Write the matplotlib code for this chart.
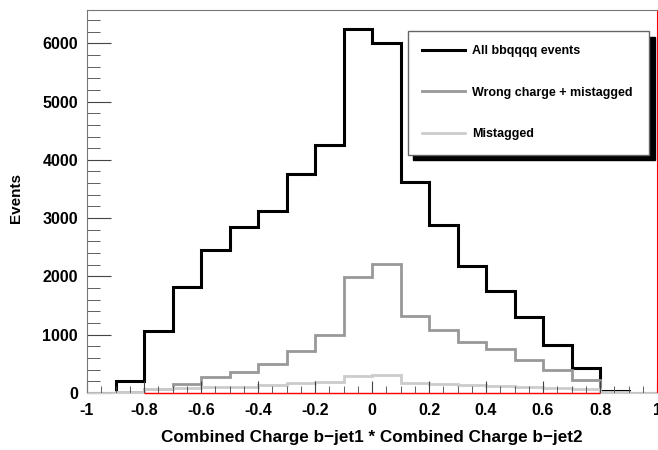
import matplotlib
matplotlib.use('Agg')
import matplotlib.pyplot as plt
from matplotlib.ticker import MultipleLocator, FuncFormatter
import numpy as np

plt.rcParams['font.family'] = ['Liberation Sans', 'DejaVu Sans']
plt.rcParams['font.weight'] = 'bold'

# 20 bins of width 0.1 on [-1, 1]
edges = np.round(np.arange(-1.0, 1.0001, 0.1), 2)
all_events = [0, 200, 1070, 1810, 2450, 2840, 3120, 3760, 4250, 6240,
              6010, 3620, 2890, 2170, 1755, 1310, 825, 425, 40, 0]
wrong_charge = [0, 15, 70, 150, 280, 365, 490, 720, 995, 1995,
                2210, 1320, 1080, 870, 750, 565, 395, 225, 15, 0]
mistagged = [0, 20, 63, 86, 97, 109, 131, 166, 189, 286,
             303, 177, 149, 131, 114, 97, 80, 69, 23, 0]
fit_range = [-0.8, 0.8]

series = [
    (all_events, 'All bbqqqq events', 'black', 2.2),
    (wrong_charge, 'Wrong charge + mistagged', '#989898', 2.0),
    (mistagged, 'Mistagged', '#cccccc', 2.0),
]

fig = plt.figure(figsize=(6.58, 4.5), dpi=100)
ax = fig.add_axes([87 / 658, 1 - 393 / 450, 570 / 658, 383 / 450])

for vals, lab, col, lw in series:
    ax.stairs(vals, edges, baseline=0, color=col, lw=lw, label=lab)

# fit range drawn along the baseline
ax.hlines(0, fit_range[0], fit_range[1], color='red', lw=1.0, zorder=5,
          clip_on=False)

ax.set_xlim(-1, 1)
ax.set_ylim(0, 6570)

ax.xaxis.set_major_locator(MultipleLocator(0.2))
ax.xaxis.set_minor_locator(MultipleLocator(0.05))
ax.yaxis.set_major_locator(MultipleLocator(1000))
ax.yaxis.set_minor_locator(MultipleLocator(200))
ax.xaxis.set_major_formatter(FuncFormatter(lambda v, p: '%g' % round(v, 2)))

ax.tick_params(axis='both', which='both', direction='in',
               top=False, right=False, color='#444444')
ax.tick_params(axis='x', which='major', length=9, pad=7, labelsize=11.5)
ax.tick_params(axis='x', which='minor', length=5)
ax.tick_params(axis='y', which='major', length=17, pad=6.5, labelsize=11.5)
ax.tick_params(axis='y', which='minor', length=9)

for s in ['left', 'top']:
    ax.spines[s].set_color('#777777')
ax.spines['bottom'].set_color('#cccccc')
ax.spines['right'].set_color('red')

ax.set_xlabel('Combined Charge b\u2212jet1 * Combined Charge b\u2212jet2',
              fontsize=12.3, fontweight='bold', labelpad=8.5)
ax.set_ylabel('Events', fontsize=11, fontweight='bold')
ax.yaxis.set_label_coords(-0.112, 0.51)

leg = ax.legend(loc='upper left', bbox_to_anchor=(0.563, 0.616, 0.423, 0.329),
                mode='expand', borderaxespad=0, fontsize=9, frameon=True,
                fancybox=False, handlelength=3.4, handletextpad=0.6,
                labelspacing=2.35, borderpad=1.15,
                shadow={'ox': 4, 'oy': -4, 'color': 'black', 'alpha': 1})
leg.get_frame().set_edgecolor('#666666')
leg.get_frame().set_linewidth(1.0)
for t in leg.get_texts():
    t.set_fontweight('bold')

fig.savefig('out.png', dpi=100)
